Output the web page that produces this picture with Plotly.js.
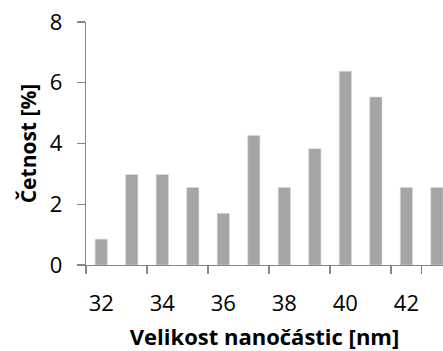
<!DOCTYPE html>
<html>
<head>
<meta charset="utf-8">
<script src="https://cdn.plot.ly/plotly-3.0.1.min.js"></script>
<style>html,body{margin:0;padding:0;background:#fff;}#chart{width:443px;height:351px;}</style>
</head>
<body>
<div id="chart"></div>
<script>
var categories = ["32","33","34","35","36","37","38","39","40","41","42","43"];
var frequency = [0.85, 2.98, 2.98, 2.55, 1.70, 4.26, 2.55, 3.83, 6.38, 5.53, 2.55, 2.55];
var xTickLabels = ["32","34","36","38","40","42"];
var yTickValues = [0, 2, 4, 6, 8];
var xTitle = "Velikost nanočástic [nm]";
var yTitle = "Četnost [%]";

var fontFamily = "Open Sans, sans-serif";
var trace = {
  type: "bar",
  x: categories,
  y: frequency,
  marker: {color: "#a5a5a5", line: {color: "#d9d9d9", width: 0.6}},
  width: 0.4,
  hoverinfo: "skip"
};
var layout = {
  width: 443, height: 351,
  margin: {l: 86, r: 0, t: 22, b: 86, pad: 0},
  paper_bgcolor: "#fff", plot_bgcolor: "#fff",
  showlegend: false,
  font: {family: fontFamily, color: "#000", size: 22},
  xaxis: {
    type: "category",
    categoryorder: "array", categoryarray: categories,
    range: [-0.5, 11.2],
    tickmode: "array", tickvals: xTickLabels, ticktext: xTickLabels,
    tickson: "boundaries",
    tickangle: 0,
    ticks: "outside", ticklen: 8, tickwidth: 1.3, tickcolor: "#868686",
    showline: true, linecolor: "#868686", linewidth: 1.3,
    showgrid: false, zeroline: false,
    ticklabelstandoff: 18,
    tickfont: {size: 22, family: fontFamily},
    title: {text: xTitle, font: {size: 22, family: fontFamily, weight: "bold"}, standoff: 15},
    automargin: false
  },
  yaxis: {
    range: [0, 8],
    tickmode: "array", tickvals: yTickValues,
    ticks: "outside", ticklen: 8, tickwidth: 1.3, tickcolor: "#868686",
    showline: true, linecolor: "#868686", linewidth: 1.3,
    showgrid: false, zeroline: false,
    ticklabelstandoff: 10,
    tickfont: {size: 22, family: fontFamily},
    title: {text: yTitle, font: {size: 21, family: fontFamily, weight: "bold"}, standoff: 7},
    automargin: false
  }
};
Plotly.newPlot("chart", [trace], layout, {displayModeBar: false, staticPlot: true});
</script>
</body>
</html>
